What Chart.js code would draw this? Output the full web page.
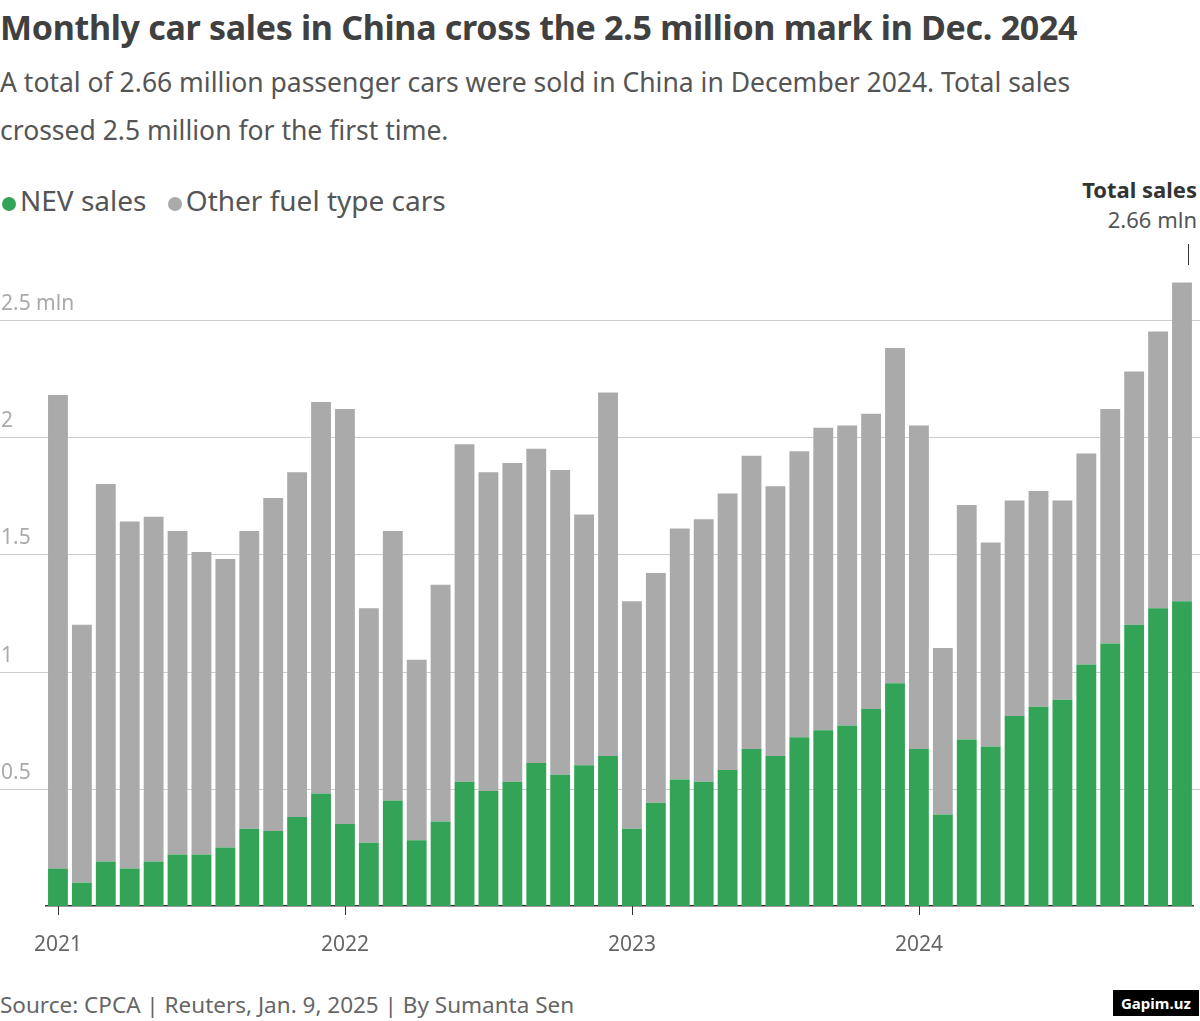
<!DOCTYPE html>
<html><head><meta charset="utf-8">
<script src="https://cdn.jsdelivr.net/npm/chart.js@4"></script>
<style>
body{margin:0;width:1200px;height:1021px;background:#fff;font-family:"Noto Sans",sans-serif;color:#333;position:relative;overflow:hidden}
h1{position:absolute;left:0;top:4px;margin:0;font-size:34px;font-weight:700;color:#404040;letter-spacing:-0.3px}
.sub{position:absolute;left:0;top:58px;width:1165px;font-size:26.5px;line-height:48px;color:#555}
.leg{position:absolute;left:0;top:181px;font-size:28px;color:#555}
.leg span{display:inline-block;width:14px;height:14px;border-radius:50%;margin:0 4px 0 2px}
.tot{position:absolute;right:3px;top:174px;text-align:right;font-size:22px;color:#555;line-height:30px}
.tick{position:absolute;left:1188px;top:244px;width:1px;height:21px;background:#333}
.src{position:absolute;left:0;top:989px;font-size:22.5px;color:#666}
.wm{position:absolute;left:1113px;top:990px;background:#000;color:#fff;font-size:15px;font-weight:700;padding:3px 8px}
#c{position:absolute;left:0;top:250px}
</style></head><body>
<h1>Monthly car sales in China cross the 2.5 million mark in Dec. 2024</h1>
<div class="sub">A total of 2.66 million passenger cars were sold in China in December 2024. Total sales crossed 2.5 million for the first time.</div>
<div class="leg"><span style="background:#33a457"></span>NEV sales <span style="background:#aaaaaa;margin-left:14px"></span>Other fuel type cars</div>
<div class="tot"><b style="color:#333">Total sales</b><br>2.66 mln</div>
<div class="tick"></div>
<canvas id="c" width="1200" height="720"></canvas>
<div class="src">Source: CPCA | Reuters, Jan. 9, 2025 | By Sumanta Sen</div>
<div class="wm">Gapim.uz</div>
<script>
const years = ['2021', '2022', '2023', '2024'];
const months = ['Jan','Feb','Mar','Apr','May','Jun','Jul','Aug','Sep','Oct','Nov','Dec'];
// million units
const totalSales = [
  2.18, 1.20, 1.80, 1.64, 1.66, 1.60, 1.51, 1.48, 1.60, 1.74, 1.85, 2.15,
  2.12, 1.27, 1.60, 1.05, 1.37, 1.97, 1.85, 1.89, 1.95, 1.86, 1.67, 2.19,
  1.30, 1.42, 1.61, 1.65, 1.76, 1.92, 1.79, 1.94, 2.04, 2.05, 2.10, 2.38,
  2.05, 1.10, 1.71, 1.55, 1.73, 1.77, 1.73, 1.93, 2.12, 2.28, 2.45, 2.66
];
const nevSales = [
  0.16, 0.10, 0.19, 0.16, 0.19, 0.22, 0.22, 0.25, 0.33, 0.32, 0.38, 0.48,
  0.35, 0.27, 0.45, 0.28, 0.36, 0.53, 0.49, 0.53, 0.61, 0.56, 0.60, 0.64,
  0.33, 0.44, 0.54, 0.53, 0.58, 0.67, 0.64, 0.72, 0.75, 0.77, 0.84, 0.95,
  0.67, 0.39, 0.71, 0.68, 0.81, 0.85, 0.88, 1.03, 1.12, 1.20, 1.27, 1.30
];
const yTicks = [0.5, 1, 1.5, 2, 2.5];
const yTickLabels = ['0.5', '1', '1.5', '2', '2.5 mln'];

const labels = [];
years.forEach(y => months.forEach(m => labels.push(m + ' ' + y)));
const otherSales = totalSales.map((t, i) => +(t - nevSales[i]).toFixed(2));

// gridlines and y labels run across the full width; year ticks under January bars
const yGrid = {
  id: 'yGrid',
  beforeDatasetsDraw(chart) {
    const ctx = chart.ctx, y = chart.scales.y, x = chart.scales.x;
    ctx.save();
    ctx.font = '21px "Noto Sans"';
    ctx.fillStyle = '#aaa';
    ctx.textBaseline = 'bottom';
    yTicks.forEach((v, i) => {
      const py = Math.round(y.getPixelForValue(v)) + 0.5;
      ctx.strokeStyle = '#ccc';
      ctx.lineWidth = 1;
      ctx.beginPath(); ctx.moveTo(0, py); ctx.lineTo(chart.width, py); ctx.stroke();
      ctx.fillText(yTickLabels[i], 1, py - 6);
    });
    const base = y.getPixelForValue(0);
    ctx.strokeStyle = '#333';
    years.forEach((yr, i) => {
      const px = Math.round(x.getPixelForValue(i * 12)) + 0.5;
      ctx.beginPath(); ctx.moveTo(px, base); ctx.lineTo(px, base + 9); ctx.stroke();
    });
    ctx.restore();
  }
};

new Chart(document.getElementById('c'), {
  type: 'bar',
  data: {
    labels: labels,
    datasets: [
      { label: 'NEV sales', data: nevSales, backgroundColor: '#33a457' },
      { label: 'Other fuel type cars', data: otherSales, backgroundColor: '#aaaaaa' }
    ]
  },
  options: {
    responsive: false,
    animation: false,
    layout: { padding: { top: 23, left: 46, right: 0 } },
    datasets: { bar: { barPercentage: 0.83, categoryPercentage: 1 } },
    plugins: { legend: { display: false }, tooltip: { enabled: false } },
    scales: {
      x: {
        stacked: true,
        afterFit: s => { s.height = 64; },
        border: { color: '#333', width: 1.5 },
        grid: { display: false },
        ticks: {
          autoSkip: false, maxRotation: 0, padding: 18,
          font: { size: 21, family: 'Noto Sans' }, color: '#666',
          callback: (v, i) => (i % 12 === 0 ? years[i / 12] : '')
        }
      },
      y: {
        stacked: true, min: 0, max: 2.7,
        display: false
      }
    }
  },
  plugins: [yGrid]
});
</script>
</body></html>
